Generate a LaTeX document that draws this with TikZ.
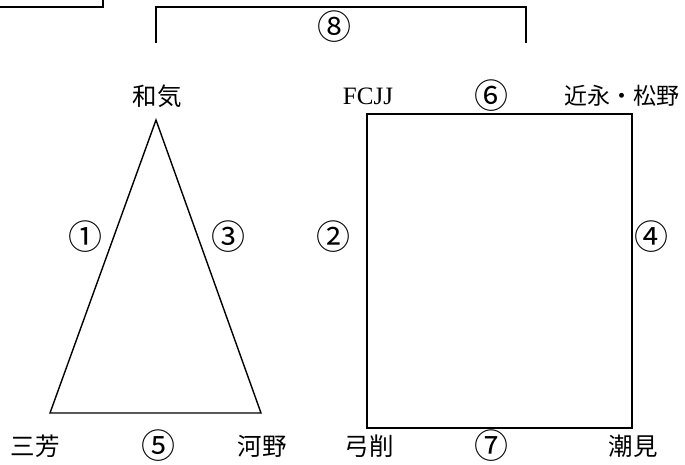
\documentclass[tikz,border=0pt]{standalone}
\usepackage{fontspec}
\setmainfont{Liberation Serif}
\newfontfamily\cjk{Noto Sans CJK JP}
\begin{document}
\begin{tikzpicture}[x=1pt,y=-1pt,
  lbl/.style={inner sep=0pt,font=\cjk\fontsize{24.5}{26}\selectfont},
  num/.style={inner sep=0pt,font=\cjk\fontsize{34}{36}\selectfont},
  latin/.style={inner sep=0pt,font=\fontsize{25}{27}\selectfont},
  thin line/.style={line width=1.4pt,line join=miter},
  thick line/.style={line width=2.4pt,line join=miter},
  frame line/.style={line width=1.8pt,line join=miter}]
\useasboundingbox (0,0) rectangle (685,465);
% top-left partial frame
\coordinate (tl1) at (-2,7);
\coordinate (tl2) at (103,7);
\coordinate (tl3) at (103,-2);
\draw[frame line] (tl1) -- (tl2) -- (tl3);
% bracket
\coordinate (b1) at (156,43);
\coordinate (b2) at (156,7);
\coordinate (b3) at (526,7);
\coordinate (b4) at (526,43);
\draw[frame line] (b1) -- (b2) -- (b3) -- (b4);
\node[num] (n8) at (334,27) {⑧};
% triangle
\coordinate (wake) at (156,120);
\coordinate (miyoshi) at (50,413);
\coordinate (kono) at (261,413);
\draw[thin line] (wake) -- (miyoshi) -- (kono) -- cycle;
% rectangle
\coordinate (fcjj) at (367,114);
\coordinate (chikanaga) at (632,114);
\coordinate (shiomi) at (632,428);
\coordinate (yuge) at (367,428);
\draw[thick line] (fcjj) -- (chikanaga) -- (shiomi) -- (yuge) -- cycle;
% labels top
\node[lbl] (Lwake) at (157,96) {和気};
\node[latin] (Lfcjj) at (368,96) {FCJJ};
\node[num] (n6) at (491,96) {⑥};
\node[lbl,font=\cjk\fontsize{23}{25}\selectfont] (Lchika) at (622,96) {近永・松野};
% middle labels
\node[num] (n1) at (85,237) {①};
\node[num] (n3) at (228,237) {③};
\node[num] (n2) at (333,237) {②};
\node[num] (n4) at (651,237) {④};
% bottom labels
\node[lbl] (Lmiyoshi) at (35,446) {三芳};
\node[num] (n5) at (158,446) {⑤};
\node[lbl] (Lkono) at (262,446) {河野};
\node[lbl] (Lyuge) at (369,446) {弓削};
\node[num] (n7) at (491,446) {⑦};
\node[lbl] (Lshiomi) at (633,446) {潮見};
\end{tikzpicture}
\end{document}
